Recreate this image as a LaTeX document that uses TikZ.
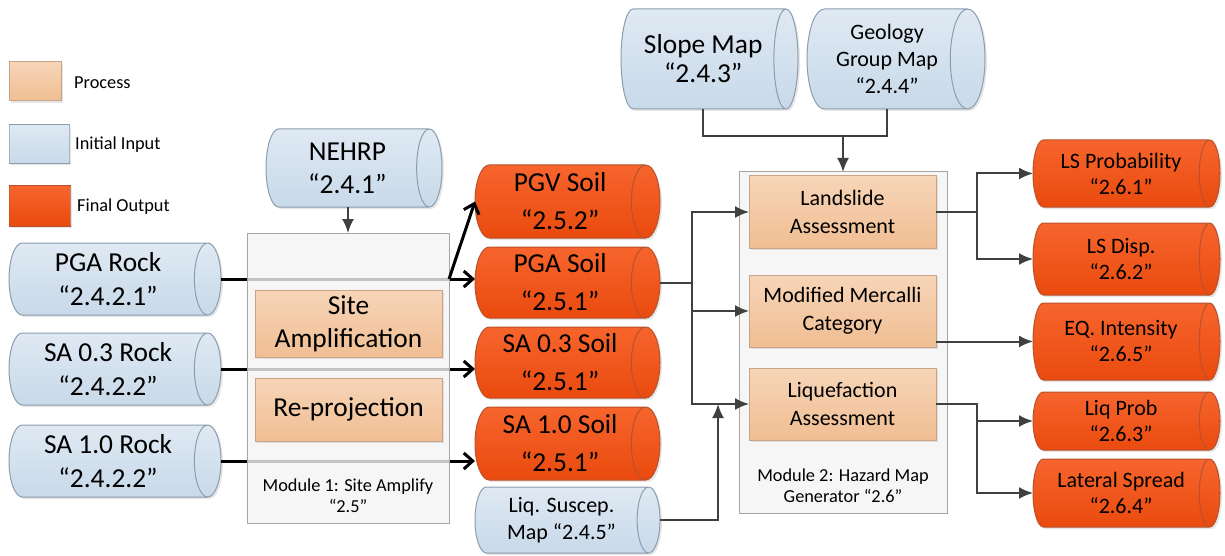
\documentclass[tikz,border=0pt]{standalone}
\usepackage{fontspec}
\setmainfont{Carlito}
\usetikzlibrary{arrows.meta,shapes,positioning,calc,shadows}

\definecolor{intop}{HTML}{DFE9F3}
\definecolor{inbot}{HTML}{C8D9E9}
\definecolor{inedge}{HTML}{8C9DAD}
\definecolor{outtop}{HTML}{F6652D}
\definecolor{outbot}{HTML}{EA4A0E}
\definecolor{outedge}{HTML}{B8522E}
\definecolor{proctop}{HTML}{F7D5B8}
\definecolor{procbot}{HTML}{F0BE93}
\definecolor{procedge}{HTML}{C9A386}
\definecolor{modfill}{HTML}{F4F4F4}
\definecolor{modedge}{HTML}{A6A6A6}
\definecolor{linegray}{HTML}{404040}

\begin{document}
\begin{tikzpicture}[x=1pt,y=-1pt,
    % cylinder: len = along the axis, dia = across it
    cyl/.style={cylinder, aspect=0.5, inner sep=0pt, outer sep=0pt, align=center, anchor=west, line width=1pt,
      drop shadow={opacity=0.2, shadow xshift=2pt, shadow yshift=-2pt}},
    len/.style={minimum height=#1},
    dia/.style={minimum width=#1},
    incyl/.style={cyl, draw=inedge, top color=intop, bottom color=inbot},
    outcyl/.style={cyl, draw=outedge, top color=outtop, bottom color=outbot},
    procbox/.style={rectangle, draw=procedge, top color=proctop, bottom color=procbot, inner sep=0pt, outer sep=0pt, align=center, anchor=north west, minimum width=187pt, line width=1pt,
      drop shadow={opacity=0.2, shadow xshift=2pt, shadow yshift=-2pt}},
    modbox/.style={rectangle, draw=modedge, fill=modfill, fill opacity=0.8, anchor=north west, line width=1pt, outer sep=0pt},
    bigtxt/.style={font=\fontsize{27.4}{#1}\selectfont}, bigtxt/.default=34,
    midtxt/.style={font=\fontsize{22}{#1}\selectfont}, midtxt/.default=27,
    smalltxt/.style={font=\fontsize{18.3}{21}\selectfont, align=center, inner sep=0pt},
    blackarrow/.style={-{Straight Barb[length=9pt,width=16pt]}, line width=3pt},
    grayline/.style={draw=linegray, line width=2pt},
    grayarrow/.style={grayline, -{Latex[length=14pt,width=12pt]}},
  ]
  \useasboundingbox (0,0) rectangle (1225,556);

  % legend
  \node[procbox, minimum width=52pt, minimum height=39pt] (legproc) at (9,62) {};
  \node[smalltxt, anchor=west] (legproctxt) at (74,83) {Process};
  \node[incyl, len=60pt, dia=39pt] (legin) at (9,144) {};
  \node[smalltxt, anchor=west] (legintxt) at (75,145) {Initial Input};
  \node[outcyl, len=61pt, dia=40pt] (legout) at (9,206) {};
  \node[smalltxt, anchor=west] (legouttxt) at (77,207) {Final Output};

  % inputs
  \node[incyl, bigtxt, len=212pt, dia=72pt] (pgarock) at (9,279) {PGA Rock\\“2.4.2.1”};
  \node[incyl, bigtxt, len=212pt, dia=72pt] (sa3rock) at (9,369) {SA 0.3 Rock\\“2.4.2.2”};
  \node[incyl, bigtxt, len=212pt, dia=72pt] (sa1rock) at (9,461) {SA 1.0 Rock\\“2.4.2.2”};
  \node[incyl, bigtxt=33, len=176pt, dia=78pt] (nehrp) at (266,168) {NEHRP\\“2.4.1”};
  \node[incyl, bigtxt=29, len=177pt, dia=100pt] (slope) at (621,59) {Slope Map\\“2.4.3”};
  \node[incyl, midtxt, len=178pt, dia=100pt] (geology) at (807,59) {Geology\\Group Map\\“2.4.4”};
  \node[incyl, midtxt, len=185pt, dia=66pt] (liqmap) at (475,520) {Liq. Suscep.\\Map “2.4.5”};

  % module 1 outputs
  \node[outcyl, bigtxt=38, len=185pt, dia=73pt] (pgvsoil) at (475,201.5) {PGV Soil\\“2.5.2”};
  \node[outcyl, bigtxt=38, len=185pt, dia=71pt] (pgasoil) at (475,282.5) {PGA Soil\\“2.5.1”};
  \node[outcyl, bigtxt=38, len=185pt, dia=71pt] (sa3soil) at (475,362.5) {SA 0.3 Soil\\“2.5.1”};
  \node[outcyl, bigtxt=38, len=185pt, dia=73pt] (sa1soil) at (475,443.5) {SA 1.0 Soil\\“2.5.1”};

  % module 2 outputs
  \node[outcyl, midtxt=26, len=187pt, dia=67pt] (lsprob) at (1033,173.5) {LS Probability\\“2.6.1”};
  \node[outcyl, midtxt=26, len=187pt, dia=72pt] (lsdisp) at (1033,259) {LS Disp.\\“2.6.2”};
  \node[outcyl, midtxt=26, len=187pt, dia=77pt] (eqint) at (1033,341.5) {EQ. Intensity\\“2.6.5”};
  \node[outcyl, midtxt=26, len=187pt, dia=58pt] (liqprob) at (1033,421) {Liq Prob\\“2.6.3”};
  \node[outcyl, midtxt=26, len=187pt, dia=68pt] (lateral) at (1033,493) {Lateral Spread\\“2.6.4”};

  % rock -> soil, under module 1
  \draw[blackarrow] (pgarock.east) -- (pgarock.east -| pgasoil.west);
  \draw[blackarrow] (sa3rock.east) -- (sa3rock.east -| sa3soil.west);
  \draw[blackarrow] (sa1rock.east) -- (sa1rock.east -| sa1soil.west);

  % module 1
  \node[modbox, minimum width=202pt, minimum height=290pt] (mod1) at (247,233) {};
  \node[smalltxt] (mod1txt) at (348,496) {Module 1: Site Amplify\\“2.5”};
  \node[procbox, bigtxt=33, minimum height=67pt] (siteamp) at (255,290) {Site\\Amplification};
  \node[procbox, bigtxt, minimum height=63pt] (reproj) at (255,378) {Re-projection};
  \draw[blackarrow] (pgarock.east -| mod1.east) -- (pgvsoil.west);
  \draw[grayarrow] (mod1.north |- nehrp.south) -- (mod1.north);

  % module 2
  \node[modbox, minimum width=208pt, minimum height=341pt] (mod2) at (739,172) {};
  \node[smalltxt] (mod2txt) at (843,486) {Module 2: Hazard Map\\Generator “2.6”};
  \node[procbox, midtxt=28, minimum height=72pt] (landslide) at (749,176) {Landslide\\Assessment};
  \node[procbox, midtxt=28, minimum height=72pt] (mercalli) at (749,275) {Modified Mercalli\\Category};
  \node[procbox, midtxt=28, minimum height=72pt] (liqassess) at (749,368) {Liquefaction\\Assessment};

  % inputs to module 2
  \coordinate (pgasplit) at ($(pgasoil.east)+(32,0)$);
  \draw[grayline] (pgasoil.east) -- (pgasplit);
  \draw[grayarrow] (pgasplit) |- (landslide.west);
  \draw[grayarrow] (pgasplit) |- (mercalli.west);
  \draw[grayarrow] (pgasplit) |- (liqassess.west);
  \coordinate (liqjoin) at ($(pgasplit |- liqassess.west)+(26,0)$);
  \draw[grayarrow] (liqmap.east) -| (liqjoin);
  \coordinate (mapjoin) at ($(slope.south)+(0,27)$);
  \draw[grayline] (slope.south) -- (mapjoin) -| (geology.south);
  \draw[grayarrow] (mapjoin -| mod2.north) -- (mod2.north);

  % module 2 outputs
  \draw[grayarrow] (landslide.east) -- ++(41,0) |- (lsprob.west);
  \draw[grayarrow] (landslide.east) -- ++(41,0) |- (lsdisp.west);
  \draw[grayarrow] (eqint.west -| mercalli.east) -- (eqint.west);
  \draw[grayarrow] (liqassess.east) -- ++(41,0) |- (liqprob.west);
  \draw[grayarrow] (liqassess.east) -- ++(41,0) |- (lateral.west);
\end{tikzpicture}
\end{document}
